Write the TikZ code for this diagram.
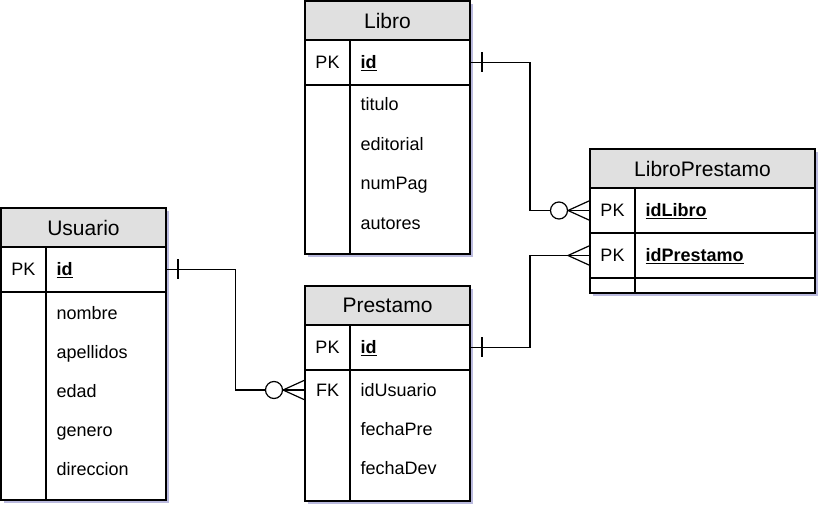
\documentclass[tikz,border=0pt]{standalone}
\usepackage{fontspec}
\setmainfont{Liberation Sans}
\usetikzlibrary{positioning,calc,shadows}

\begin{document}
\begin{tikzpicture}[x=1pt, y=-1pt, line width=1.2pt,
    table_head/.style ={rectangle, draw=black, fill=black!12, minimum width=165pt,
      minimum height=39pt, inner sep=0pt, outer sep=0pt, font=\fontsize{21}{24}\selectfont,
      drop shadow={shadow xshift=3pt, shadow yshift=-3pt, fill=blue!35!gray, opacity=.4}},
    table_row/.style ={rectangle, draw=black, fill=white, minimum width=165pt,
      minimum height=45pt, inner sep=0pt, outer sep=0pt,
      drop shadow={shadow xshift=3pt, shadow yshift=-3pt, fill=blue!35!gray, opacity=.4}},
    key_text/.style ={inner sep=0pt, font=\fontsize{18}{21}\selectfont,
      text height=13pt, text depth=0pt},
    field_text/.style ={key_text, anchor=west},
    divider/.style ={draw=black},
    one_bar/.pic ={\draw (12,-10) -- (12,10);},
    many_only/.pic ={\draw (0,-10) -- (-22,0) -- (0,10);},
    zero_many/.pic ={\draw (0,-10) -- (-22,0) -- (0,10);
      \draw[fill=white] (-31,0) circle (8.5);}]
    \useasboundingbox (0,0) rectangle (833,521);
    % table Libro
    \node [table_head] (libro) at (387.5,20.5) {Libro};
    \node [table_row, below=0pt of libro] (libroPK) {};
    \node [table_row, minimum height=169pt, below=0pt of libroPK] (libroBody) {};
    \draw [divider] ([xshift=45pt]libroPK.north west) -- ([xshift=45pt]libroBody.south west);
    \node [key_text] at ($(libroPK.west)+(22.5,0)$) {PK};
    \node [field_text] (libro-id) at ($(libroPK.west)+(55,0)$) {\underline{\textbf{id}}};
    \foreach \f [count=\i from 0] in {titulo,editorial,numPag,autores}
      \node [field_text] (libro-\f) at ($(libroBody.north west)+(55,19.5+39.5*\i)$) {\f};
    % table Usuario
    \node [table_head] (usuario) at (83.5,227.5) {Usuario};
    \node [table_row, below=0pt of usuario] (usuarioPK) {};
    \node [table_row, minimum height=208pt, below=0pt of usuarioPK] (usuarioBody) {};
    \draw [divider] ([xshift=45pt]usuarioPK.north west) -- ([xshift=45pt]usuarioBody.south west);
    \node [key_text] at ($(usuarioPK.west)+(22.5,0)$) {PK};
    \node [field_text] (usuario-id) at ($(usuarioPK.west)+(55,0)$) {\underline{\textbf{id}}};
    \foreach \f [count=\i from 0] in {nombre,apellidos,edad,genero,direccion}
      \node [field_text] (usuario-\f) at ($(usuarioBody.north west)+(55,21+39*\i)$) {\f};
    % table Prestamo
    \node [table_head] (prestamo) at (387.5,305.5) {Prestamo};
    \node [table_row, below=0pt of prestamo] (prestamoPK) {};
    \node [table_row, minimum height=131pt, below=0pt of prestamoPK] (prestamoBody) {};
    \draw [divider] ([xshift=45pt]prestamoPK.north west) -- ([xshift=45pt]prestamoBody.south west);
    \node [key_text] at ($(prestamoPK.west)+(22.5,0)$) {PK};
    \node [field_text] (prestamo-id) at ($(prestamoPK.west)+(55,0)$) {\underline{\textbf{id}}};
    \node [key_text] (prestamoFK) at ($(prestamoBody.north west)+(22.5,20)$) {FK};
    \foreach \f [count=\i from 0] in {idUsuario,fechaPre,fechaDev}
      \node [field_text] (prestamo-\f) at ($(prestamoBody.north west)+(55,20+39*\i)$) {\f};
    % table LibroPrestamo
    \node [table_head, minimum width=225pt] (lp) at (702.5,168.5) {LibroPrestamo};
    \node [table_row, minimum width=225pt, below=0pt of lp] (lpLibro) {};
    \node [table_row, minimum width=225pt, below=0pt of lpLibro] (lpPrestamo) {};
    \node [table_row, minimum width=225pt, minimum height=15pt, below=0pt of lpPrestamo] (lpBlank) {};
    \draw [divider] ([xshift=45pt]lpLibro.north west) -- ([xshift=45pt]lpBlank.south west);
    \node [key_text] at ($(lpLibro.west)+(22.5,0)$) {PK};
    \node [field_text] (lp-idLibro) at ($(lpLibro.west)+(55,0)$) {\underline{\textbf{idLibro}}};
    \node [key_text] at ($(lpPrestamo.west)+(22.5,0)$) {PK};
    \node [field_text] (lp-idPrestamo) at ($(lpPrestamo.west)+(55,0)$) {\underline{\textbf{idPrestamo}}};
    % relationships
    \draw (libroPK.east) -| ($(libroPK.east)!.5!(lpLibro.west)$) |- (lpLibro.west);
    \draw (prestamoPK.east) -| ($(prestamoPK.east)!.5!(lpPrestamo.west)$) |- (lpPrestamo.west);
    \draw (usuarioPK.east) -| ($(usuarioPK.east)!.5!(prestamoBody.west |- prestamoFK)$)
      |- (prestamoBody.west |- prestamoFK);
    \path (libroPK.east) pic {one_bar} (lpLibro.west) pic {zero_many};
    \path (prestamoPK.east) pic {one_bar} (lpPrestamo.west) pic {many_only};
    \path (usuarioPK.east) pic {one_bar} (prestamoBody.west |- prestamoFK) pic {zero_many};
\end{tikzpicture}
\end{document}
